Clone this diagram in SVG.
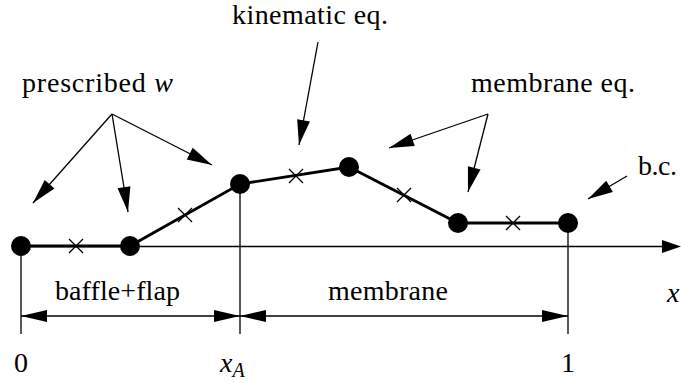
<svg xmlns="http://www.w3.org/2000/svg" width="681" height="383" viewBox="0 0 681 383">
<defs>
<marker id="ah" markerUnits="userSpaceOnUse" markerWidth="30" markerHeight="16" viewBox="-26 -8 28 16" refX="0" refY="0" orient="auto">
<path d="M0,0 L-25,-6.5 L-25,6.5 Z" fill="#000"/>
</marker>
<marker id="dh" markerUnits="userSpaceOnUse" markerWidth="30" markerHeight="16" viewBox="-26 -8 28 16" refX="0" refY="0" orient="auto-start-reverse">
<path d="M0,0 L-26,-6 L-26,6 Z" fill="#000"/>
</marker>
</defs>

<g id="connectors" stroke="#000" stroke-width="1.3" fill="none">
<line x1="21" y1="246.5" x2="664" y2="246.5"/>
<path d="M681,246.5 L662,240 L662,253 Z" fill="#000" stroke="none"/>
<line x1="21" y1="246" x2="21" y2="334"/>
<line x1="240" y1="184" x2="240" y2="334"/>
<line x1="568" y1="223" x2="568" y2="334"/>
<g marker-start="url(#dh)" marker-end="url(#dh)">
<line x1="21" y1="316" x2="240" y2="316"/>
<line x1="240" y1="316" x2="568" y2="316"/>
</g>
<polyline stroke-width="2.8" points="21,246 130,246 240,184 349,167 458,223 568,223"/>
<g marker-end="url(#ah)">
<line x1="112" y1="114" x2="33" y2="203"/>
<line x1="112" y1="114" x2="128" y2="212"/>
<line x1="112" y1="114" x2="212" y2="165"/>
<line x1="318" y1="42" x2="299" y2="145"/>
<line x1="488" y1="114" x2="389" y2="148"/>
<line x1="488" y1="114" x2="468" y2="192"/>
<line x1="627" y1="176" x2="588" y2="199"/>
</g>
</g>

<g id="crosses" stroke="#000" stroke-width="1.3">
<path d="M69,239 L83,253 M83,239 L69,253"/>
<path d="M178,208 L192,222 M192,208 L178,222"/>
<path d="M289,169 L303,183 M303,169 L289,183"/>
<path d="M397,188 L411,202 M411,188 L397,202"/>
<path d="M506,216 L520,230 M520,216 L506,230"/>
</g>

<g id="n1"><circle fill="#000" cx="21" cy="246" r="10"/></g>
<g id="n2"><circle fill="#000" cx="130" cy="246" r="10"/></g>
<g id="n3"><circle fill="#000" cx="240" cy="184" r="10"/></g>
<g id="n4"><circle fill="#000" cx="349" cy="167" r="10"/></g>
<g id="n5"><circle fill="#000" cx="458" cy="223" r="10"/></g>
<g id="n6"><circle fill="#000" cx="568" cy="223" r="10"/></g>

<g id="labels" font-family="Liberation Serif" font-size="28" fill="#000">
<text x="232" y="24" textLength="156">kinematic eq.</text>
<text x="22" y="92" textLength="151">prescribed <tspan font-style="italic">w</tspan></text>
<text x="471" y="92" textLength="164">membrane eq.</text>
<text x="638" y="175" textLength="39">b.c.</text>
<text x="55" y="300" textLength="125">baffle+flap</text>
<text x="328" y="300" textLength="120">membrane</text>
<text x="667" y="302" font-style="italic">x</text>
<text x="21" y="372" text-anchor="middle">0</text>
<text x="220" y="372" font-style="italic">x<tspan font-size="20" dy="5">A</tspan></text>
<text x="568" y="372" text-anchor="middle">1</text>
</g>
</svg>
